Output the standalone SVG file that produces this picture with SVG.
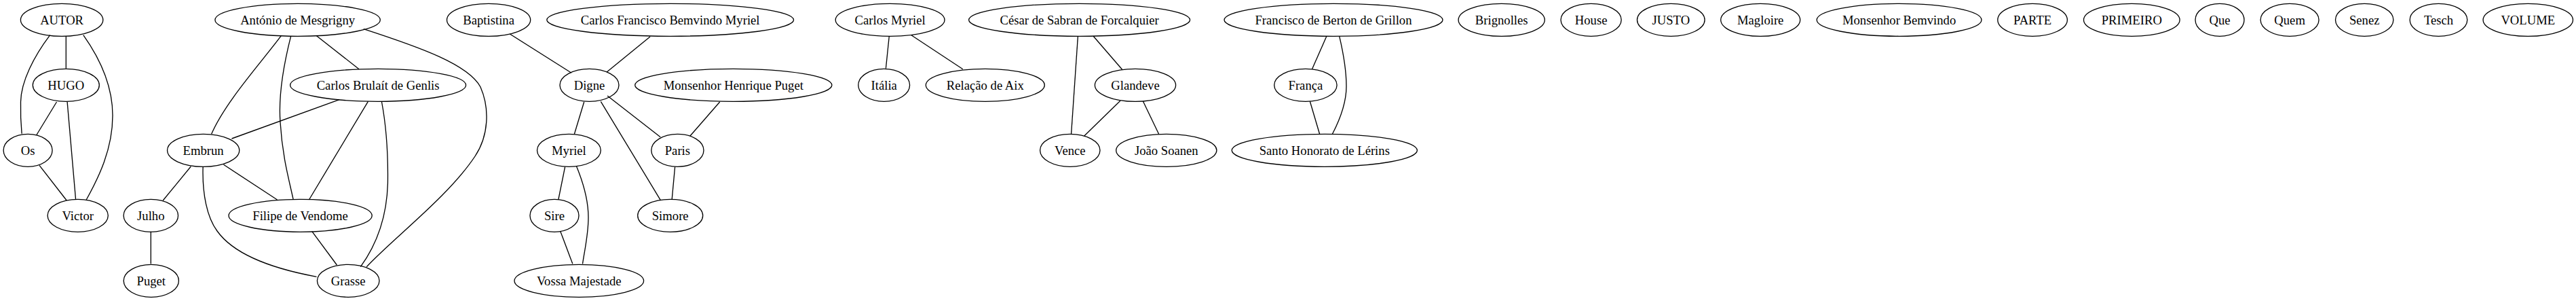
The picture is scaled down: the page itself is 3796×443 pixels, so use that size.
<svg xmlns="http://www.w3.org/2000/svg" width="3796" height="443" viewBox="0 0 3796 443">
<style>
ellipse{fill:none;stroke:#000;stroke-width:1.33}
text{font-family:"Liberation Serif","Times New Roman",serif;font-size:18.67px;text-anchor:middle;fill:#000}
#edges path{fill:none;stroke:#000;stroke-width:1.33}
</style>
<rect width="3796" height="443" fill="#fff"/>
<g id="edges">
<path d="M97.3,53.3L97.3,100.7"/>
<path d="M73.7,51.7C50,83 31,120 30.5,150C30,170 31,185 32.1,196.7"/>
<path d="M122.8,51.7C150,90 166,130 166,170C166,220 145,262 127.2,294"/>
<path d="M83.5,150L53.6,199"/>
<path d="M99.1,150L111.6,294"/>
<path d="M58,243.3L98.2,295"/>
<path d="M466.5,52.7L529,101.7"/>
<path d="M414.3,52.7C385,92 332,150 311.6,197.3"/>
<path d="M428.6,53.3C418,95 410,140 413,180C416,230 426,265 432.1,293.3"/>
<path d="M535.7,42.7C620,70 690,95 708,128C722,160 720,200 700,230C660,290 580,350 540.2,392.7"/>
<path d="M500,146.7L341.5,204"/>
<path d="M542.4,149.3L455.4,294"/>
<path d="M562.5,150C570,190 572,230 571.4,270C570,320 555,360 531.3,392.7"/>
<path d="M281.3,245L240.2,295"/>
<path d="M329.5,242.3L408.5,294"/>
<path d="M299.1,246C298,285 305,320 320,340C345,375 400,395 466.5,407.3"/>
<path d="M459.8,340.7L496.4,390"/>
<path d="M222.3,340.7L222.3,388.3"/>
<path d="M751.3,50L842,107.3"/>
<path d="M958,54L894.2,106"/>
<path d="M860.7,150L846.4,197.3"/>
<path d="M895.1,141L973.2,201.7"/>
<path d="M885.3,149.3L973.2,294.3"/>
<path d="M1060.7,150L1017,200"/>
<path d="M832.6,245.7L822.8,294"/>
<path d="M849.6,245C862,275 867,300 867,320C867,345 862,365 858.5,388.3"/>
<path d="M825.9,340.7L843.8,388.3"/>
<path d="M994.6,245.7L990.2,293.3"/>
<path d="M1310.3,53.3L1305.4,100.7"/>
<path d="M1342.9,51.7L1418.8,101.7"/>
<path d="M1611.2,53.3L1653.6,102.3"/>
<path d="M1588.4,53.3L1578.6,197.3"/>
<path d="M1650.9,148.3L1597.8,200"/>
<path d="M1684.4,149L1707.6,197.3"/>
<path d="M1954.9,53.3L1933.5,101.7"/>
<path d="M1973.7,53.3C1980,80 1984,105 1984,127C1984,150 1975,175 1963.4,197.3"/>
<path d="M1930.4,149.3L1944.6,197.3"/>
</g>
<g id="n-autor"><ellipse cx="91.1" cy="29.3" rx="60.7" ry="24"/><text x="91.1" y="35.5">AUTOR</text></g>
<g id="n-hugo"><ellipse cx="97.3" cy="125.3" rx="49" ry="24"/><text x="97.3" y="131.5">HUGO</text></g>
<g id="n-os"><ellipse cx="41.1" cy="221.3" rx="36" ry="24"/><text x="41.1" y="227.5">Os</text></g>
<g id="n-victor"><ellipse cx="114.7" cy="317.3" rx="44.6" ry="24"/><text x="114.7" y="323.5">Victor</text></g>
<g id="n-julho"><ellipse cx="222.3" cy="317.3" rx="40.2" ry="24"/><text x="222.3" y="323.5">Julho</text></g>
<g id="n-puget"><ellipse cx="222.8" cy="413.3" rx="40.6" ry="24"/><text x="222.8" y="419.5">Puget</text></g>
<g id="n-embrun"><ellipse cx="299.6" cy="221.3" rx="53.1" ry="24"/><text x="299.6" y="227.5">Embrun</text></g>
<g id="n-antonio"><ellipse cx="438.6" cy="29.3" rx="121.7" ry="24"/><text x="438.6" y="35.5">António de Mesgrigny</text></g>
<g id="n-genlis"><ellipse cx="557.1" cy="125.3" rx="129.5" ry="24"/><text x="557.1" y="131.5">Carlos Brulaít de Genlis</text></g>
<g id="n-filipe"><ellipse cx="442.6" cy="317.3" rx="105.6" ry="24"/><text x="442.6" y="323.5">Filipe de Vendome</text></g>
<g id="n-grasse"><ellipse cx="513.2" cy="413.3" rx="45.8" ry="24"/><text x="513.2" y="419.5">Grasse</text></g>
<g id="n-baptistina"><ellipse cx="720.1" cy="29.3" rx="61.6" ry="24"/><text x="720.1" y="35.5">Baptistina</text></g>
<g id="n-cfbm"><ellipse cx="987.7" cy="29.3" rx="181.9" ry="24"/><text x="987.7" y="35.5">Carlos Francisco Bemvindo Myriel</text></g>
<g id="n-digne"><ellipse cx="868.5" cy="125.3" rx="43.5" ry="24"/><text x="868.5" y="131.5">Digne</text></g>
<g id="n-mhp"><ellipse cx="1080.8" cy="125.3" rx="145.1" ry="24"/><text x="1080.8" y="131.5">Monsenhor Henrique Puget</text></g>
<g id="n-myriel"><ellipse cx="838.4" cy="221.3" rx="46.9" ry="24"/><text x="838.4" y="227.5">Myriel</text></g>
<g id="n-paris"><ellipse cx="998.4" cy="221.3" rx="38.6" ry="24"/><text x="998.4" y="227.5">Paris</text></g>
<g id="n-sire"><ellipse cx="817" cy="317.3" rx="36" ry="24"/><text x="817" y="323.5">Sire</text></g>
<g id="n-simore"><ellipse cx="987.7" cy="317.3" rx="48" ry="24"/><text x="987.7" y="323.5">Simore</text></g>
<g id="n-vossa"><ellipse cx="853.3" cy="413.3" rx="95.3" ry="24"/><text x="853.3" y="419.5">Vossa Majestade</text></g>
<g id="n-cmyriel"><ellipse cx="1311.6" cy="29.3" rx="80.4" ry="24"/><text x="1311.6" y="35.5">Carlos Myriel</text></g>
<g id="n-italia"><ellipse cx="1302.7" cy="125.3" rx="37.9" ry="24"/><text x="1302.7" y="131.5">Itália</text></g>
<g id="n-relacao"><ellipse cx="1451.8" cy="125.3" rx="87.5" ry="24"/><text x="1451.8" y="131.5">Relação de Aix</text></g>
<g id="n-cesar"><ellipse cx="1590.6" cy="29.3" rx="163" ry="24"/><text x="1590.6" y="35.5">César de Sabran de Forcalquier</text></g>
<g id="n-glandeve"><ellipse cx="1673" cy="125.3" rx="59.6" ry="24"/><text x="1673" y="131.5">Glandeve</text></g>
<g id="n-vence"><ellipse cx="1576.8" cy="221.3" rx="44.2" ry="24"/><text x="1576.8" y="227.5">Vence</text></g>
<g id="n-joao"><ellipse cx="1718.8" cy="221.3" rx="74.1" ry="24"/><text x="1718.8" y="227.5">João Soanen</text></g>
<g id="n-francisco"><ellipse cx="1965" cy="29.3" rx="161" ry="24"/><text x="1965" y="35.5">Francisco de Berton de Grillon</text></g>
<g id="n-franca"><ellipse cx="1923.9" cy="125.3" rx="46.2" ry="24"/><text x="1923.9" y="131.5">França</text></g>
<g id="n-santo"><ellipse cx="1951.8" cy="221.3" rx="136.6" ry="24"/><text x="1951.8" y="227.5">Santo Honorato de Lérins</text></g>
<g id="n-brignolles"><ellipse cx="2212.7" cy="29.3" rx="63.6" ry="24"/><text x="2212.7" y="35.5">Brignolles</text></g>
<g id="n-house"><ellipse cx="2344.6" cy="29.3" rx="44.6" ry="24"/><text x="2344.6" y="35.5">House</text></g>
<g id="n-justo"><ellipse cx="2462.3" cy="29.3" rx="49.8" ry="24"/><text x="2462.3" y="35.5">JUSTO</text></g>
<g id="n-magloire"><ellipse cx="2594.2" cy="29.3" rx="58.5" ry="24"/><text x="2594.2" y="35.5">Magloire</text></g>
<g id="n-mbemvindo"><ellipse cx="2798.6" cy="29.3" rx="121.4" ry="24"/><text x="2798.6" y="35.5">Monsenhor Bemvindo</text></g>
<g id="n-parte"><ellipse cx="2995.1" cy="29.3" rx="51.3" ry="24"/><text x="2995.1" y="35.5">PARTE</text></g>
<g id="n-primeiro"><ellipse cx="3141.3" cy="29.3" rx="70.8" ry="24"/><text x="3141.3" y="35.5">PRIMEIRO</text></g>
<g id="n-que"><ellipse cx="3271" cy="29.3" rx="36" ry="24"/><text x="3271" y="35.5">Que</text></g>
<g id="n-quem"><ellipse cx="3374.1" cy="29.3" rx="43" ry="24"/><text x="3374.1" y="35.5">Quem</text></g>
<g id="n-senez"><ellipse cx="3484.2" cy="29.3" rx="42.7" ry="24"/><text x="3484.2" y="35.5">Senez</text></g>
<g id="n-tesch"><ellipse cx="3593.5" cy="29.3" rx="42.3" ry="24"/><text x="3593.5" y="35.5">Tesch</text></g>
<g id="n-volume"><ellipse cx="3725.3" cy="29.3" rx="66.2" ry="24"/><text x="3725.3" y="35.5">VOLUME</text></g>
</svg>
